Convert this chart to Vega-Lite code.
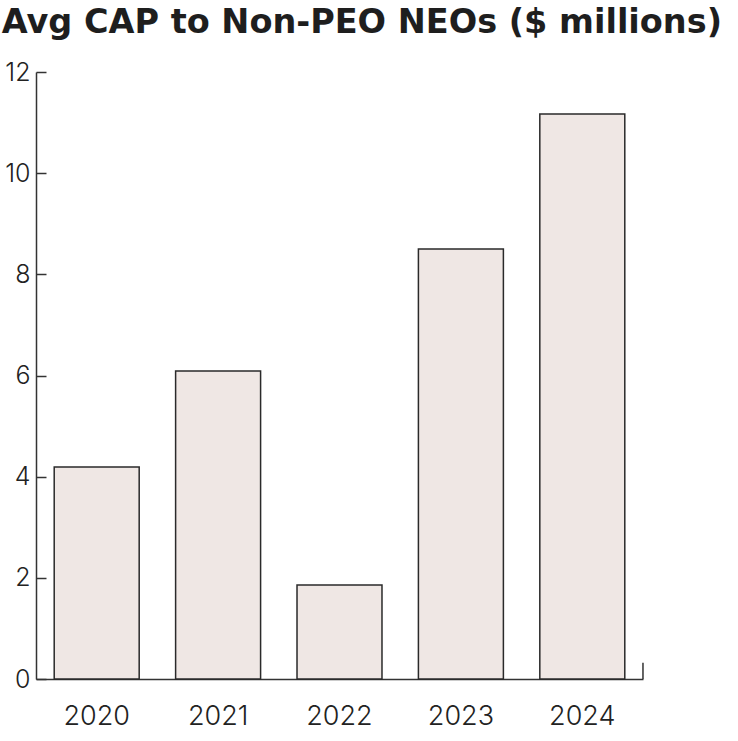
{
  "$schema": "https://vega.github.io/schema/vega-lite/v6.json",
  "width": 607,
  "height": 607,
  "autosize": {"type": "none"},
  "padding": {"left": 36, "top": 72, "right": 95, "bottom": 62},
  "background": "#ffffff",
  "title": {
    "text": "Avg CAP to Non-PEO NEOs ($ millions)",
    "anchor": "start",
    "offset": 20,
    "dx": -3,
    "font": "DejaVu Sans",
    "fontSize": 33.5,
    "fontWeight": "bold",
    "color": "#1e1e1e"
  },
  "config": {
    "view": {"stroke": null},
    "axis": {
      "labelFont": "Inter",
      "labelFontWeight": 300,
      "labelColor": "#222222",
      "domainColor": "#333333",
      "tickColor": "#333333",
      "domainWidth": 1.5,
      "tickWidth": 1.5,
      "grid": false,
      "title": null
    }
  },
  "data": {
    "values": [
      {"year": "2020", "value": 4.19},
      {"year": "2021", "value": 6.09},
      {"year": "2022", "value": 1.86},
      {"year": "2023", "value": 8.5},
      {"year": "2024", "value": 11.17}
    ]
  },
  "layer": [
    {
      "mark": {"type": "bar", "fill": "#efe7e4", "stroke": "#2a2a2a", "strokeWidth": 1.5},
      "encoding": {
        "x": {
          "field": "year",
          "type": "ordinal",
          "scale": {"paddingInner": 0.3, "paddingOuter": 0.15},
          "axis": {"labelAngle": 0, "ticks": false, "labelFontSize": 27, "labelPadding": 24}
        },
        "y": {
          "field": "value",
          "type": "quantitative",
          "scale": {"domain": [0, 12], "nice": false},
          "axis": {"values": [0, 2, 4, 6, 8, 10, 12], "tickSize": -10, "labelFontSize": 25, "labelPadding": 16}
        }
      }
    },
    {
      "data": {"values": [{"year": "2024", "lo": 0, "hi": 0.32}]},
      "mark": {"type": "rule", "color": "#333333", "strokeWidth": 1.5},
      "encoding": {
        "x": {"field": "year", "type": "ordinal", "bandPosition": 1.214},
        "y": {"field": "lo", "type": "quantitative"},
        "y2": {"field": "hi"}
      }
    }
  ]
}
